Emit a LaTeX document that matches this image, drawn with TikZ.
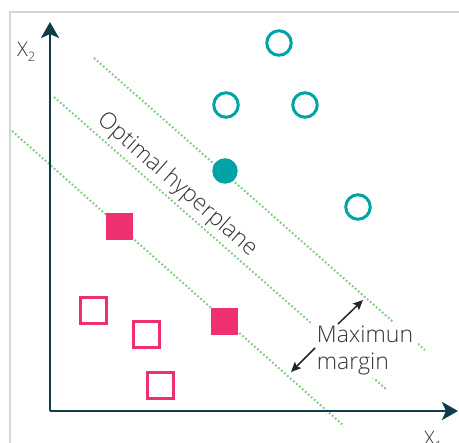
\documentclass[tikz,border=0pt]{standalone}
\usepackage{fontspec}
\IfFontExistsTF{Open Sans Light}{\setmainfont{Open Sans Light}}{\setmainfont{Open Sans}}
\usetikzlibrary{arrows.meta}

\definecolor{svmteal}{RGB}{0,163,166}
\definecolor{svmpink}{RGB}{239,48,112}
\definecolor{svmgreen}{RGB}{128,204,128}
\definecolor{axisblue}{RGB}{14,60,76}
\definecolor{labelgray}{RGB}{51,51,51}
\definecolor{framegray}{RGB}{214,214,214}

\tikzset{
  opencirc/.style={circle, draw=svmteal, line width=3pt, minimum size=24.5pt, inner sep=0pt},
  fullcirc/.style={circle, fill=svmteal, minimum size=25.5pt, inner sep=0pt},
  opensq/.style={rectangle, draw=svmpink, line width=3pt, minimum size=26pt, inner sep=0pt},
  fullsq/.style={rectangle, fill=svmpink, minimum size=27pt, inner sep=0pt},
  marginline/.style={svmgreen, line width=2pt, dash pattern=on 1.8pt off 2.2pt},
  axisline/.style={axisblue, line width=2.6pt, -{Stealth[length=16pt,width=18pt,inset=4pt]}},
  pointer/.style={black!85, line width=1.5pt, -{Stealth[length=10pt,width=9pt,inset=2pt]}},
  lbl/.style={text=labelgray, font=\fontsize{23}{27}\selectfont, inner sep=0pt},
  axlbl/.style={text=labelgray, font=\fontsize{20}{24}\selectfont, inner sep=0pt},
}

\newcommand{\axsub}[1]{\raisebox{-0.45ex}{\fontsize{13}{13}\selectfont #1}}

\begin{document}
\begin{tikzpicture}[x=1pt,y=-1pt]
\useasboundingbox (0,0) rectangle (459,443);

% light frame along the top and left edges
\draw[framegray, line width=2pt] (10,443) -- (10,12) -- (459,12);

% the three parallel margin lines
\coordinate (upA) at (94,58);
\coordinate (upB) at (425,350);
\coordinate (midA) at (54,97);
\coordinate (midB) at (386,389);
\coordinate (lowA) at (12,131);
\coordinate (lowB) at (344,426);
\draw[marginline] (upA) -- (upB);
\draw[marginline] (midA) -- (midB);
\draw[marginline] (lowA) -- (lowB);

% axes
\coordinate (origin) at (50,411);
\coordinate (ytip) at (50,22);
\coordinate (xtip) at (458,411);
\draw[axisline] (origin) -- (ytip);
\draw[axisline] (origin) -- (xtip);
\node[axlbl, anchor=base west] (xtwo) at (17,57) {X\axsub{2}};
\node[axlbl, anchor=base west] (xone) at (424,446) {X\axsub{1}};

% class A: circles
\node[opencirc] (c1) at (279,43) {};
\node[opencirc] (c2) at (226,105) {};
\node[opencirc] (c3) at (305,105) {};
\node[opencirc] (c4) at (358,207) {};
\node[fullcirc] (c5) at (225,171) {};

% class B: squares
\node[fullsq] (s1) at (119.5,226.5) {};
\node[fullsq] (s2) at (224.5,321.5) {};
\node[opensq] (s3) at (93.5,310.5) {};
\node[opensq] (s4) at (146.5,335) {};
\node[opensq] (s5) at (160.5,386) {};

% hyperplane label
\node[lbl, rotate=-41.4] (hyper) at (177,185) {Optimal hyperplane};

% margin label and pointers
\node[lbl, fill=white, align=left, inner xsep=5pt, inner ysep=3pt] (margin) at (365,350) {Maximun\\margin};
\coordinate (pUpS) at (338,324);
\coordinate (pUpE) at (363,300);
\coordinate (pLoS) at (315,348);
\coordinate (pLoE) at (291,372);
\draw[pointer] (pUpS) -- (pUpE);
\draw[pointer] (pLoS) -- (pLoE);
\end{tikzpicture}
\end{document}
